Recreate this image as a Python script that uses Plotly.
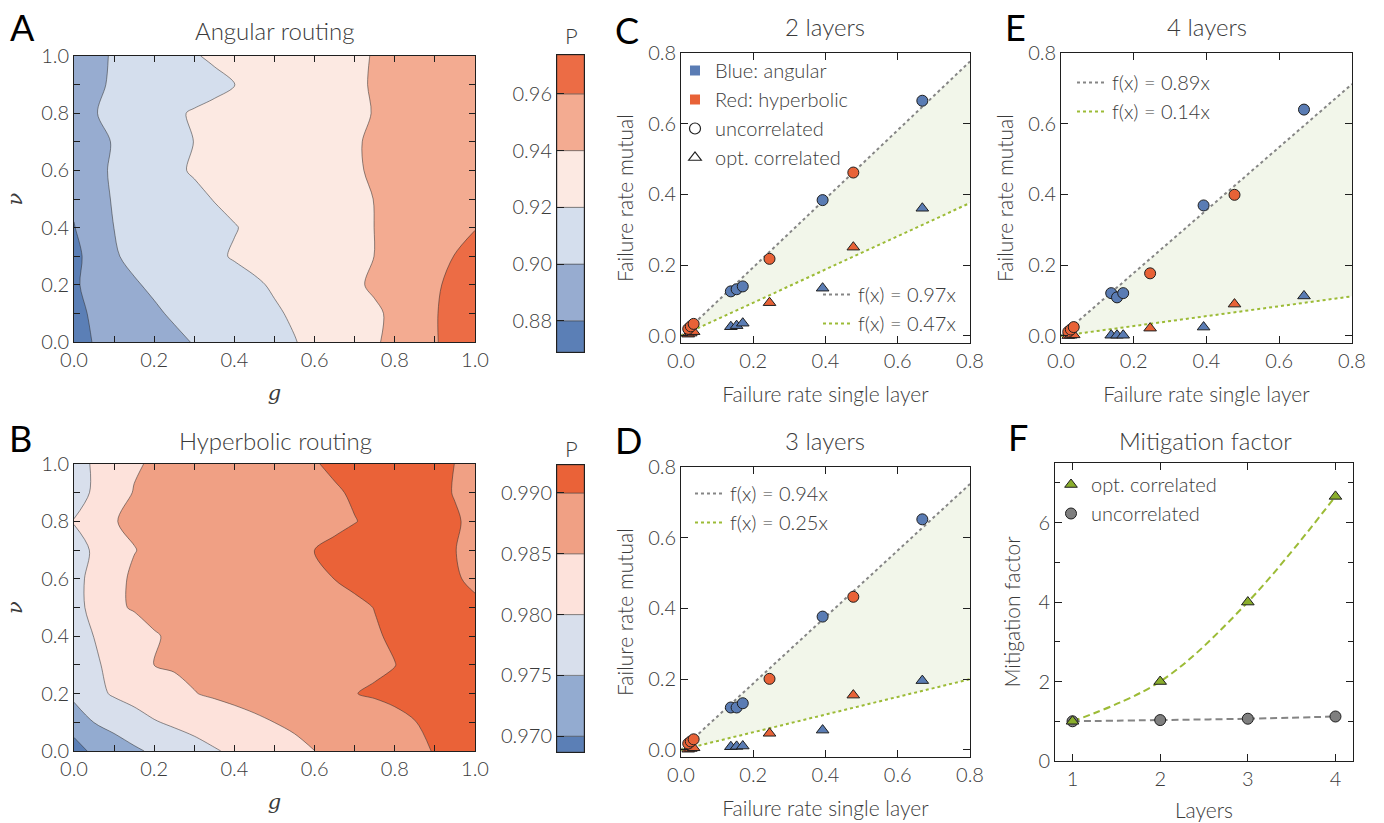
import plotly.graph_objects as go

FONT = "Lato"
TXT = "#3b3b3b"
W, H = 1384, 823

# ---------------- routing maps: P(g, nu) ----------------
g_vals = [0.0, 0.05, 0.1, 0.15, 0.2, 0.25, 0.3, 0.35, 0.4, 0.45, 0.5,
          0.55, 0.6, 0.65, 0.7, 0.75, 0.8, 0.85, 0.9, 0.95, 1.0]
nu_vals = [0.0, 0.1, 0.2, 0.3, 0.4, 0.5, 0.6, 0.7, 0.8, 0.9, 1.0]

# rows: nu = 0.0 ... 1.0, columns: g = 0.0 ... 1.0
P_angular = [
    [0.8750, 0.8806, 0.8846, 0.8888, 0.8928, 0.8968, 0.9008, 0.9044, 0.9082, 0.9120, 0.9156, 0.9194, 0.9240, 0.9286, 0.9334, 0.9382, 0.9444, 0.9516, 0.9588, 0.9660, 0.9734],
    [0.8760, 0.8821, 0.8874, 0.8926, 0.8979, 0.9020, 0.9052, 0.9085, 0.9118, 0.9150, 0.9183, 0.9219, 0.9258, 0.9298, 0.9337, 0.9376, 0.9431, 0.9509, 0.9588, 0.9666, 0.9744],
    [0.8780, 0.8848, 0.8917, 0.8986, 0.9025, 0.9056, 0.9088, 0.9119, 0.9150, 0.9181, 0.9216, 0.9256, 0.9297, 0.9337, 0.9377, 0.9423, 0.9476, 0.9529, 0.9582, 0.9635, 0.9688],
    [0.8760, 0.8859, 0.8987, 0.9033, 0.9069, 0.9105, 0.9142, 0.9178, 0.9211, 0.9238, 0.9265, 0.9292, 0.9319, 0.9346, 0.9373, 0.9401, 0.9451, 0.9502, 0.9553, 0.9604, 0.9656],
    [0.8794, 0.8895, 0.9001, 0.9032, 0.9065, 0.9097, 0.9129, 0.9161, 0.9194, 0.9224, 0.9253, 0.9282, 0.9312, 0.9341, 0.9371, 0.9401, 0.9439, 0.9478, 0.9516, 0.9555, 0.9594],
    [0.8824, 0.8934, 0.9015, 0.9054, 0.9092, 0.9131, 0.9169, 0.9205, 0.9230, 0.9254, 0.9279, 0.9303, 0.9328, 0.9353, 0.9377, 0.9402, 0.9430, 0.9457, 0.9485, 0.9512, 0.9540],
    [0.8860, 0.8951, 0.9024, 0.9076, 0.9127, 0.9179, 0.9213, 0.9235, 0.9257, 0.9279, 0.9301, 0.9323, 0.9345, 0.9367, 0.9389, 0.9413, 0.9439, 0.9464, 0.9489, 0.9515, 0.9540],
    [0.8860, 0.8941, 0.9013, 0.9061, 0.9109, 0.9157, 0.9202, 0.9226, 0.9249, 0.9273, 0.9296, 0.9320, 0.9344, 0.9367, 0.9391, 0.9415, 0.9440, 0.9465, 0.9490, 0.9515, 0.9540],
    [0.8880, 0.8991, 0.9043, 0.9089, 0.9135, 0.9181, 0.9213, 0.9234, 0.9255, 0.9276, 0.9297, 0.9319, 0.9340, 0.9361, 0.9382, 0.9404, 0.9431, 0.9459, 0.9486, 0.9513, 0.9540],
    [0.8870, 0.8970, 0.9021, 0.9050, 0.9079, 0.9109, 0.9138, 0.9168, 0.9197, 0.9228, 0.9258, 0.9289, 0.9320, 0.9351, 0.9382, 0.9410, 0.9436, 0.9462, 0.9488, 0.9514, 0.9540],
    [0.8870, 0.8953, 0.9019, 0.9062, 0.9105, 0.9148, 0.9191, 0.9219, 0.9242, 0.9265, 0.9289, 0.9312, 0.9336, 0.9359, 0.9382, 0.9406, 0.9433, 0.9460, 0.9487, 0.9513, 0.9540],
]

P_hyperbolic = [
    [0.96865, 0.97071, 0.97248, 0.97426, 0.97575, 0.97705, 0.97834, 0.97964, 0.98076, 0.98182, 0.98287, 0.98393, 0.98498, 0.98584, 0.98670, 0.98756, 0.98842, 0.98928, 0.99017, 0.99121, 0.99225],
    [0.97150, 0.97506, 0.97661, 0.97815, 0.97969, 0.98069, 0.98155, 0.98242, 0.98328, 0.98414, 0.98502, 0.98571, 0.98641, 0.98712, 0.98782, 0.98852, 0.98923, 0.98993, 0.99062, 0.99131, 0.99200],
    [0.97650, 0.97878, 0.98050, 0.98160, 0.98269, 0.98378, 0.98487, 0.98555, 0.98618, 0.98681, 0.98743, 0.98806, 0.98869, 0.98931, 0.98994, 0.99031, 0.99065, 0.99099, 0.99132, 0.99166, 0.99200],
    [0.97700, 0.97931, 0.98130, 0.98315, 0.98502, 0.98542, 0.98583, 0.98624, 0.98666, 0.98707, 0.98748, 0.98790, 0.98831, 0.98872, 0.98913, 0.98955, 0.98996, 0.99046, 0.99098, 0.99149, 0.99200],
    [0.97700, 0.98007, 0.98165, 0.98323, 0.98481, 0.98539, 0.98583, 0.98628, 0.98672, 0.98716, 0.98760, 0.98805, 0.98849, 0.98893, 0.98937, 0.98982, 0.99026, 0.99069, 0.99113, 0.99157, 0.99200],
    [0.97800, 0.98169, 0.98440, 0.98531, 0.98570, 0.98610, 0.98649, 0.98688, 0.98728, 0.98767, 0.98807, 0.98846, 0.98885, 0.98925, 0.98964, 0.99004, 0.99053, 0.99102, 0.99150, 0.99100, 0.99050],
    [0.97850, 0.98137, 0.98435, 0.98537, 0.98583, 0.98630, 0.98677, 0.98723, 0.98770, 0.98816, 0.98863, 0.98910, 0.98956, 0.99002, 0.99039, 0.99076, 0.99113, 0.99150, 0.99088, 0.99026, 0.98950],
    [0.97800, 0.98061, 0.98276, 0.98492, 0.98554, 0.98610, 0.98667, 0.98723, 0.98779, 0.98835, 0.98891, 0.98947, 0.99003, 0.99046, 0.99089, 0.99132, 0.99175, 0.99118, 0.99062, 0.99005, 0.98925],
    [0.98025, 0.98258, 0.98491, 0.98540, 0.98581, 0.98622, 0.98663, 0.98705, 0.98746, 0.98787, 0.98828, 0.98869, 0.98910, 0.98952, 0.98993, 0.99044, 0.99097, 0.99150, 0.99086, 0.99022, 0.98950],
    [0.97750, 0.98074, 0.98337, 0.98518, 0.98564, 0.98609, 0.98655, 0.98701, 0.98747, 0.98793, 0.98839, 0.98885, 0.98931, 0.98976, 0.99025, 0.99077, 0.99129, 0.99113, 0.99052, 0.98990, 0.98925],
    [0.97750, 0.98067, 0.98264, 0.98461, 0.98544, 0.98600, 0.98655, 0.98710, 0.98766, 0.98821, 0.98876, 0.98932, 0.98987, 0.99036, 0.99082, 0.99129, 0.99175, 0.99117, 0.99059, 0.98998, 0.98925],
]

levels_angular = [0.88, 0.90, 0.92, 0.94, 0.96]
levels_hyperbolic = [0.970, 0.975, 0.980, 0.985, 0.990]
# band edges displayed on the colour bars
cbar_edges_angular = [0.869, 0.88, 0.90, 0.92, 0.94, 0.96, 0.9737]
cbar_edges_hyperbolic = [0.9687, 0.970, 0.975, 0.980, 0.985, 0.990, 0.9923]
colors_angular = ["#5b7fb6", "#97acd0", "#d4deed", "#fce9e2", "#f3ab91", "#ec6c45"]
colors_hyperbolic = ["#5b7fb6", "#93abd0", "#d8dfec", "#fde2db", "#f0a084", "#ea6238"]

# ---------------- failure rates ----------------
x_blue = [0.138, 0.154, 0.171, 0.392, 0.668]
x_red = [0.020, 0.027, 0.035, 0.245, 0.477]

y_blue_unc_2 = [0.126, 0.132, 0.140, 0.384, 0.665]
y_blue_cor_2 = [0.026, 0.029, 0.036, 0.135, 0.361]
y_red_unc_2 = [0.020, 0.027, 0.034, 0.218, 0.462]
y_red_cor_2 = [0.005, 0.008, 0.012, 0.094, 0.251]

y_blue_unc_3 = [0.120, 0.120, 0.132, 0.377, 0.652]
y_blue_cor_3 = [0.009, 0.010, 0.011, 0.056, 0.196]
y_red_unc_3 = [0.018, 0.024, 0.030, 0.201, 0.433]
y_red_cor_3 = [0.002, 0.004, 0.006, 0.047, 0.155]

y_blue_unc_4 = [0.121, 0.109, 0.121, 0.369, 0.640]
y_blue_cor_4 = [0.002, 0.002, 0.002, 0.025, 0.113]
y_red_unc_4 = [0.012, 0.018, 0.025, 0.177, 0.399]
y_red_cor_4 = [0.001, 0.002, 0.003, 0.022, 0.090]

slope_unc = {2: 0.97, 3: 0.94, 4: 0.89}
slope_cor = {2: 0.47, 3: 0.25, 4: 0.14}
fit_x = [0.0, 0.8]

# ---------------- mitigation factor ----------------
layers = [1, 2, 3, 4]
mitigation_cor = [1.0, 2.0, 4.0, 6.66]
mitigation_unc = [1.0, 1.03, 1.064, 1.12]

# ---------------- styling ----------------
BLUE = "#5a7cb4"
RED = "#e86237"
GREEN_LINE = "#9cbb36"
GREEN_MARK = "#8aae2c"
GRAY_LINE = "#858585"
GRAY_MARK = "#7f7f7f"
FILL = "#f2f6ea"
EDGE = "#1f1f1f"
MS = 11
TICK_SIZE = 20
LABEL_SIZE = 21
LEG_SIZE = 20


def px_x(p):
    return p / W


def px_y(p):
    return 1 - p / H


def frame_axis(**kw):
    base = dict(showline=True, linecolor=EDGE, linewidth=1, mirror="allticks",
                ticks="inside", ticklen=6, tickwidth=1, tickcolor=EDGE,
                showgrid=False, zeroline=False, automargin=False,
                tickfont=dict(family=FONT, size=TICK_SIZE, color=TXT, weight=300),
                title_font=dict(family=FONT, size=LABEL_SIZE, color=TXT, weight=300))
    base.update(kw)
    return base


fig = go.Figure()


def add_map(z, levels, colors, edges, xa, ya, xcb, ycb):
    fig.add_trace(go.Contour(
        x=g_vals, y=nu_vals, z=z, autocontour=False,
        contours=dict(start=levels[0], end=levels[-1],
                      size=levels[1] - levels[0], coloring="fill"),
        colorscale=[[i / (len(colors) - 1), c] for i, c in enumerate(colors)],
        line=dict(color="rgba(45,45,45,0.75)", width=0.7, smoothing=0.9),
        showscale=False, hoverinfo="skip", xaxis=xa, yaxis=ya))
    lows = edges[:-1]
    heights = [hi - lo for lo, hi in zip(edges[:-1], edges[1:])]
    fig.add_trace(go.Bar(
        x=[0] * len(lows), y=heights, base=lows, width=1,
        marker=dict(color=colors, line=dict(color="rgba(60,60,60,0.8)", width=0.6)),
        showlegend=False, hoverinfo="skip", xaxis=xcb, yaxis=ycb))


add_map(P_angular, levels_angular, colors_angular, cbar_edges_angular, "x", "y", "x2", "y2")
add_map(P_hyperbolic, levels_hyperbolic, colors_hyperbolic, cbar_edges_hyperbolic, "x3", "y3", "x4", "y4")


def add_failure(nl, xa, ya, legend_name, yb_u, yb_c, yr_u, yr_c):
    su, sc = slope_unc[nl], slope_cor[nl]
    yu = [su * v for v in fit_x]
    yc = [sc * v for v in fit_x]
    # shaded band between the two fits
    fig.add_trace(go.Scatter(x=fit_x, y=yu, mode="lines", line=dict(width=0),
                             showlegend=False, hoverinfo="skip", xaxis=xa, yaxis=ya))
    fig.add_trace(go.Scatter(x=fit_x, y=yc, mode="lines", line=dict(width=0),
                             fill="tonexty", fillcolor=FILL,
                             showlegend=False, hoverinfo="skip", xaxis=xa, yaxis=ya))
    fig.add_trace(go.Scatter(x=fit_x, y=yu, mode="lines",
                             line=dict(color=GRAY_LINE, width=2, dash="3px,3px"),
                             name=f"f(x) = {su:.2f}x", legend=legend_name, xaxis=xa, yaxis=ya))
    fig.add_trace(go.Scatter(x=fit_x, y=yc, mode="lines",
                             line=dict(color=GREEN_LINE, width=2, dash="3px,3px"),
                             name=f"f(x) = {sc:.2f}x", legend=legend_name, xaxis=xa, yaxis=ya))
    for xs, ys, col, sym in [(x_red, yr_c, RED, "triangle-up"),
                             (x_blue, yb_c, BLUE, "triangle-up"),
                             (x_red, yr_u, RED, "circle"),
                             (x_blue, yb_u, BLUE, "circle")]:
        fig.add_trace(go.Scatter(
            x=xs, y=ys, mode="markers",
            marker=dict(symbol=sym, color=col, size=MS, line=dict(color=EDGE, width=1)),
            showlegend=False, hoverinfo="skip", xaxis=xa, yaxis=ya))


add_failure(2, "x5", "y5", "legend2", y_blue_unc_2, y_blue_cor_2, y_red_unc_2, y_red_cor_2)
add_failure(3, "x6", "y6", "legend3", y_blue_unc_3, y_blue_cor_3, y_red_unc_3, y_red_cor_3)
add_failure(4, "x7", "y7", "legend4", y_blue_unc_4, y_blue_cor_4, y_red_unc_4, y_red_cor_4)

# legend key for colour / marker meaning (panel C)
for name, sym, col, lcol in [("Blue: angular", "square", BLUE, BLUE),
                             ("Red: hyperbolic", "square", RED, RED),
                             ("uncorrelated", "circle", "white", EDGE),
                             ("opt. correlated", "triangle-up", "white", EDGE)]:
    fig.add_trace(go.Scatter(
        x=[None], y=[None], mode="markers", name=name, legend="legend",
        marker=dict(symbol=sym, color=col, size=10 if sym == "square" else 11,
                    line=dict(color=lcol, width=1.2 if col == "white" else 0)),
        xaxis="x5", yaxis="y5"))

# mitigation factor
fig.add_trace(go.Scatter(x=layers, y=mitigation_cor, mode="lines",
                         line=dict(color=GREEN_LINE, width=2, dash="7px,4px", shape="spline"),
                         showlegend=False, hoverinfo="skip", xaxis="x8", yaxis="y8"))
fig.add_trace(go.Scatter(x=layers, y=mitigation_unc, mode="lines",
                         line=dict(color=GRAY_LINE, width=2, dash="7px,4px", shape="spline"),
                         showlegend=False, hoverinfo="skip", xaxis="x8", yaxis="y8"))
fig.add_trace(go.Scatter(x=layers, y=mitigation_unc, mode="markers", name="uncorrelated",
                         marker=dict(symbol="circle", color=GRAY_MARK, size=MS,
                                     line=dict(color=EDGE, width=1)),
                         legend="legend5", legendrank=2, xaxis="x8", yaxis="y8"))
fig.add_trace(go.Scatter(x=layers, y=mitigation_cor, mode="markers", name="opt. correlated",
                         marker=dict(symbol="triangle-up", color=GREEN_MARK, size=MS,
                                     line=dict(color=EDGE, width=1)),
                         legend="legend5", legendrank=1, xaxis="x8", yaxis="y8"))

# ---------------- layout ----------------
dom_map_x = [px_x(74), px_x(475)]
dom_cb_x = [px_x(557), px_x(584)]
dom_top = [px_y(342), px_y(56)]
dom_bot = [px_y(751), px_y(464)]
dom_cb_top = [px_y(352), px_y(55)]
dom_cb_bot = [px_y(752), px_y(465)]
dom_C_x = [px_x(681), px_x(970)]
dom_E_x = [px_x(1061), px_x(1352)]
dom_F_x = [px_x(1055), px_x(1353)]
dom_CE_y = [px_y(343), px_y(53)]
dom_D_y = [px_y(757), px_y(467)]
dom_F_y = [px_y(761), px_y(463)]

sym_font = dict(family="DejaVu Serif", size=21, color=TXT, style="italic")
nu_title = dict(text="ν", font=sym_font, standoff=12)
g_title = dict(text="g", font=sym_font, standoff=15)
map_ticks = dict(range=[0, 1], tickvals=[0, 0.2, 0.4, 0.6, 0.8, 1.0], tickformat=".1f",
                 minor=dict(dtick=0.1, ticks="inside", ticklen=6, tickcolor=EDGE))

layout = dict(
    width=W, height=H, margin=dict(l=0, r=0, t=0, b=0, autoexpand=False),
    paper_bgcolor="white", plot_bgcolor="white",
    font=dict(family=FONT, color=TXT, weight=300),
    barmode="overlay",
    xaxis=frame_axis(domain=dom_map_x, anchor="y", title=g_title, **map_ticks),
    yaxis=frame_axis(domain=dom_top, anchor="x", title=nu_title, **map_ticks),
    xaxis3=frame_axis(domain=dom_map_x, anchor="y3", title=g_title, **map_ticks),
    yaxis3=frame_axis(domain=dom_bot, anchor="x3", title=nu_title, **map_ticks),
    xaxis2=frame_axis(domain=dom_cb_x, anchor="y2", range=[-0.5, 0.5], showticklabels=False,
                      ticks="", mirror=True),
    yaxis2=frame_axis(domain=dom_cb_top, anchor="x2", range=[cbar_edges_angular[0], cbar_edges_angular[-1]],
                      tickvals=levels_angular, ticktext=[f"{v:.2f}" for v in levels_angular],
                      mirror=True, ticklen=7),
    xaxis4=frame_axis(domain=dom_cb_x, anchor="y4", range=[-0.5, 0.5], showticklabels=False,
                      ticks="", mirror=True),
    yaxis4=frame_axis(domain=dom_cb_bot, anchor="x4", range=[cbar_edges_hyperbolic[0], cbar_edges_hyperbolic[-1]],
                      tickvals=levels_hyperbolic, ticktext=[f"{v:.3f}" for v in levels_hyperbolic],
                      mirror=True, ticklen=7),
)

fail_ticks = dict(tickvals=[0, 0.2, 0.4, 0.6, 0.8], tickformat=".1f", ticklen=7)
for n, (dx, dy) in zip([5, 6, 7], [(dom_C_x, dom_CE_y), (dom_C_x, dom_D_y), (dom_E_x, dom_CE_y)]):
    layout[f"xaxis{n}"] = frame_axis(domain=dx, anchor=f"y{n}", range=[0, 0.8],
                                     title=dict(text="Failure rate single layer", standoff=16), **fail_ticks)
    layout[f"yaxis{n}"] = frame_axis(domain=dy, anchor=f"x{n}", range=[-0.02, 0.8],
                                     title=dict(text="Failure rate mutual", standoff=8), **fail_ticks)

layout["xaxis8"] = frame_axis(domain=dom_F_x, anchor="y8", range=[0.8, 4.2], tickvals=layers, ticklen=7,
                              title=dict(text="Layers", standoff=14))
layout["yaxis8"] = frame_axis(domain=dom_F_y, anchor="x8", range=[0, 7.5], tickvals=[0, 2, 4, 6], ticklen=7,
                              minor=dict(dtick=1, ticks="inside", ticklen=5, tickcolor=EDGE),
                              title=dict(text="Mitigation factor", standoff=12))

leg_common = dict(xanchor="left", yanchor="top", bgcolor="rgba(0,0,0,0)", borderwidth=0,
                  font=dict(family=FONT, size=LEG_SIZE, color=TXT, weight=300),
                  itemwidth=30, traceorder="normal")
layout["legend"] = dict(leg_common, x=px_x(675), y=px_y(51))
layout["legend2"] = dict(leg_common, x=px_x(818), y=px_y(275))
layout["legend3"] = dict(leg_common, x=px_x(690), y=px_y(474))
layout["legend4"] = dict(leg_common, x=px_x(1072), y=px_y(63))
layout["legend5"] = dict(leg_common, x=px_x(1051), y=px_y(465))


def text_at(x, y, s, size=24, weight=300, color=TXT, family=FONT):
    return dict(x=px_x(x), y=px_y(y), xref="paper", yref="paper", text=s, showarrow=False,
                xanchor="center", yanchor="middle",
                font=dict(family=family, size=size, color=color, weight=weight))


annotations = [
    text_at(22, 27, "A", size=36, weight=400, color="black"),
    text_at(20, 438, "B", size=36, weight=400, color="black"),
    text_at(627, 30, "C", size=36, weight=400, color="black"),
    text_at(628, 440, "D", size=36, weight=400, color="black"),
    text_at(1015, 27, "E", size=36, weight=400, color="black"),
    text_at(1018, 437, "F", size=36, weight=400, color="black"),
    text_at(275, 30, "Angular routing"),
    text_at(275, 440, "Hyperbolic routing"),
    text_at(825, 27, "2 layers"),
    text_at(1207, 27, "4 layers"),
    text_at(825, 440, "3 layers"),
    text_at(1205, 440, "Mitigation factor"),
    text_at(571, 35, "P", size=22),
    text_at(571, 448, "P", size=22),
]
layout["annotations"] = annotations

fig.update_layout(**layout)
fig.write_html("out.html")
